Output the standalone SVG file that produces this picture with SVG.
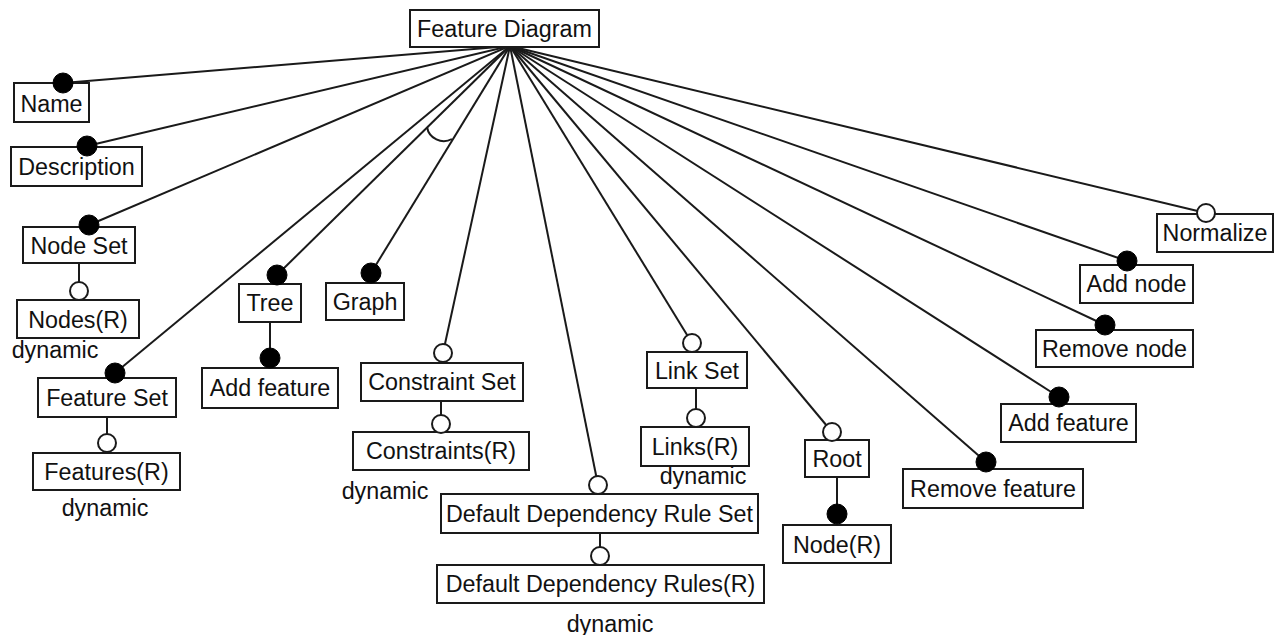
<svg xmlns="http://www.w3.org/2000/svg" width="1286" height="635" viewBox="0 0 1286 635">
  <style>
    .box { fill: #fff; stroke: #1a1a1a; stroke-width: 2; }
    .lbl { font-family: "Liberation Sans", Arial, sans-serif; font-size: 23.3px; fill: #111; text-anchor: middle; }
    .note { font-family: "Liberation Sans", Arial, sans-serif; font-size: 23.3px; fill: #111; text-anchor: middle; }
    .edge { stroke: #1a1a1a; stroke-width: 2; fill: none; }
    .mand { fill: #000; stroke: #000; stroke-width: 1; }
    .opt { fill: #fff; stroke: #1a1a1a; stroke-width: 2; }
  </style>
  <rect width="1286" height="635" fill="#fff"/>

  <!-- connectors from the root feature and between parent/child features -->
  <g id="connectors">
    <line class="edge" x1="510" y1="46" x2="63" y2="83"/>
    <line class="edge" x1="510" y1="46" x2="87" y2="146"/>
    <line class="edge" x1="510" y1="46" x2="89" y2="225"/>
    <line class="edge" x1="510" y1="46" x2="115" y2="373"/>
    <line class="edge" x1="510" y1="46" x2="277" y2="275"/>
    <line class="edge" x1="510" y1="46" x2="371" y2="273"/>
    <line class="edge" x1="510" y1="46" x2="443" y2="353"/>
    <line class="edge" x1="510" y1="46" x2="598" y2="485"/>
    <line class="edge" x1="510" y1="46" x2="692" y2="343"/>
    <line class="edge" x1="510" y1="46" x2="832" y2="432"/>
    <line class="edge" x1="510" y1="46" x2="986" y2="462"/>
    <line class="edge" x1="510" y1="46" x2="1059" y2="397"/>
    <line class="edge" x1="510" y1="46" x2="1105" y2="325"/>
    <line class="edge" x1="510" y1="46" x2="1127" y2="261"/>
    <line class="edge" x1="510" y1="46" x2="1206" y2="213"/>
    <!-- alternative group arc between Tree and Graph -->
    <path class="edge" d="M 427 127 A 17 17 0 0 0 452 139"/>
    <!-- parent to child links -->
    <line class="edge" x1="79" y1="263" x2="79" y2="291"/>
    <line class="edge" x1="107" y1="417" x2="107" y2="443"/>
    <line class="edge" x1="270" y1="322" x2="270" y2="358"/>
    <line class="edge" x1="441" y1="401" x2="441" y2="424"/>
    <line class="edge" x1="600" y1="533" x2="600" y2="556"/>
    <line class="edge" x1="696" y1="388" x2="696" y2="418"/>
    <line class="edge" x1="837" y1="477" x2="837" y2="514"/>
  </g>

  <g id="feature-diagram">
    <rect class="box" x="410" y="10" width="189" height="37"/>
    <text class="lbl" x="504.5" y="37">Feature Diagram</text>
  </g>

  <g id="name">
    <rect class="box" x="14" y="83" width="75" height="39"/>
    <circle class="mand" cx="63" cy="83" r="10"/>
    <text class="lbl" x="51.5" y="112">Name</text>
  </g>

  <g id="description">
    <rect class="box" x="11" y="147" width="131" height="39"/>
    <circle class="mand" cx="87" cy="146" r="10"/>
    <text class="lbl" x="76.5" y="175">Description</text>
  </g>

  <g id="node-set">
    <rect class="box" x="23" y="227" width="112" height="36"/>
    <circle class="mand" cx="89" cy="225" r="10"/>
    <text class="lbl" x="79" y="254">Node Set</text>
  </g>

  <g id="nodes">
    <rect class="box" x="17" y="300" width="122" height="38"/>
    <circle class="opt" cx="79" cy="291" r="9"/>
    <text class="lbl" x="78" y="328">Nodes(R)</text>
    <text class="note" x="55" y="358">dynamic</text>
  </g>

  <g id="feature-set">
    <rect class="box" x="38" y="378" width="138" height="39"/>
    <circle class="mand" cx="115" cy="373" r="10"/>
    <text class="lbl" x="107" y="406">Feature Set</text>
  </g>

  <g id="features">
    <rect class="box" x="33" y="453" width="147" height="37"/>
    <circle class="opt" cx="107" cy="443" r="9"/>
    <text class="lbl" x="106.5" y="480">Features(R)</text>
    <text class="note" x="105" y="516">dynamic</text>
  </g>

  <g id="tree">
    <rect class="box" x="239" y="284" width="62" height="38"/>
    <circle class="mand" cx="277" cy="275" r="10"/>
    <text class="lbl" x="270" y="311">Tree</text>
  </g>

  <g id="tree-add-feature">
    <rect class="box" x="202" y="368" width="136" height="40"/>
    <circle class="mand" cx="270" cy="358" r="10"/>
    <text class="lbl" x="270" y="396">Add feature</text>
  </g>

  <g id="graph">
    <rect class="box" x="326" y="283" width="78" height="37"/>
    <circle class="mand" cx="371" cy="273" r="10"/>
    <text class="lbl" x="365" y="310">Graph</text>
  </g>

  <g id="constraint-set">
    <rect class="box" x="361" y="363" width="162" height="38"/>
    <circle class="opt" cx="443" cy="353" r="9"/>
    <text class="lbl" x="442" y="390">Constraint Set</text>
  </g>

  <g id="constraints">
    <rect class="box" x="353" y="432" width="176" height="38"/>
    <circle class="opt" cx="441" cy="424" r="9"/>
    <text class="lbl" x="441" y="459">Constraints(R)</text>
    <text class="note" x="385" y="499">dynamic</text>
  </g>

  <g id="default-dependency-rule-set">
    <rect class="box" x="441" y="494" width="317" height="39"/>
    <circle class="opt" cx="598" cy="485" r="9"/>
    <text class="lbl" x="599.5" y="522">Default Dependency Rule Set</text>
  </g>

  <g id="default-dependency-rules">
    <rect class="box" x="437" y="565" width="327" height="38"/>
    <circle class="opt" cx="600" cy="556" r="9"/>
    <text class="lbl" x="600.5" y="592">Default Dependency Rules(R)</text>
    <text class="note" x="610" y="632">dynamic</text>
  </g>

  <g id="link-set">
    <rect class="box" x="647" y="352" width="100" height="36"/>
    <circle class="opt" cx="692" cy="343" r="9"/>
    <text class="lbl" x="697" y="379">Link Set</text>
  </g>

  <g id="links">
    <rect class="box" x="641" y="427" width="108" height="39"/>
    <circle class="opt" cx="696" cy="418" r="9"/>
    <text class="lbl" x="695" y="455">Links(R)</text>
    <text class="note" x="703" y="484">dynamic</text>
  </g>

  <g id="root">
    <rect class="box" x="805" y="440" width="64" height="37"/>
    <circle class="opt" cx="832" cy="432" r="9"/>
    <text class="lbl" x="837" y="467">Root</text>
  </g>

  <g id="root-node">
    <rect class="box" x="783" y="525" width="108" height="38"/>
    <circle class="mand" cx="837" cy="514" r="10"/>
    <text class="lbl" x="837" y="553">Node(R)</text>
  </g>

  <g id="remove-feature">
    <rect class="box" x="903" y="469" width="180" height="39"/>
    <circle class="mand" cx="986" cy="462" r="10"/>
    <text class="lbl" x="993" y="497">Remove feature</text>
  </g>

  <g id="add-feature">
    <rect class="box" x="1001" y="404" width="135" height="38"/>
    <circle class="mand" cx="1059" cy="397" r="10"/>
    <text class="lbl" x="1068.5" y="431">Add feature</text>
  </g>

  <g id="remove-node">
    <rect class="box" x="1036" y="330" width="157" height="37"/>
    <circle class="mand" cx="1105" cy="325" r="10"/>
    <text class="lbl" x="1114.5" y="357">Remove node</text>
  </g>

  <g id="add-node">
    <rect class="box" x="1080" y="265" width="113" height="38"/>
    <circle class="mand" cx="1127" cy="261" r="10"/>
    <text class="lbl" x="1136.5" y="292">Add node</text>
  </g>

  <g id="normalize">
    <rect class="box" x="1157" y="214" width="116" height="38"/>
    <circle class="opt" cx="1206" cy="213" r="9"/>
    <text class="lbl" x="1215" y="241">Normalize</text>
  </g>
</svg>
